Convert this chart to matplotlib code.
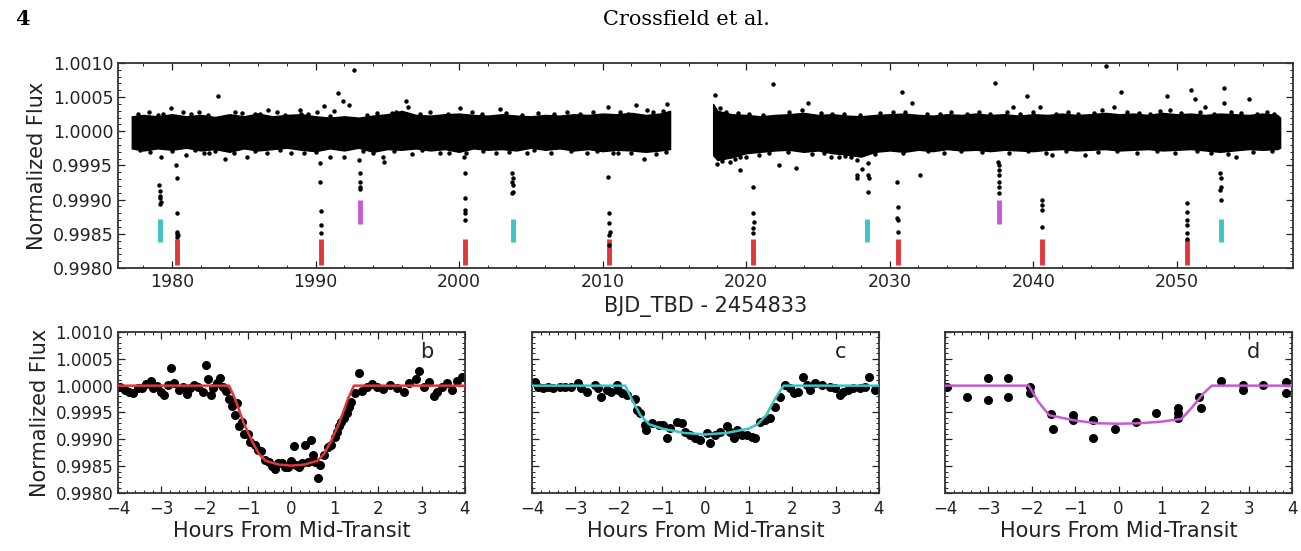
import matplotlib

matplotlib.use("Agg")
import matplotlib.pyplot as plt
from matplotlib.ticker import FormatStrFormatter, MultipleLocator

# --- top panel: light curve, days are BJD_TBD - 2454833 ---
# the dense out-of-transit cloud is kept as a read-off envelope (top / bottom edge per day)
band1_days = [1977.2, 1978, 1979, 1980, 1981, 1982, 1983, 1984, 1985, 1986,
              1987, 1988, 1989, 1990, 1991, 1992, 1993, 1994, 1995, 1996,
              1997, 1998, 1999, 2000, 2001, 2002, 2003, 2004, 2005, 2006,
              2007, 2008, 2009, 2010, 2011, 2012, 2013, 2014, 2014.7]
band1_top = [1.00022, 1.00024, 1.00022, 1.00025, 1.00022, 1.00024, 1.00021, 1.00025, 1.00022, 1.00026,
             1.00022, 1.00024, 1.00025, 1.00022, 1.00020, 1.00022, 1.00020, 1.00023, 1.00025, 1.00030,
             1.00024, 1.00023, 1.00025, 1.00026, 1.00024, 1.00023, 1.00025, 1.00023, 1.00022, 1.00024,
             1.00023, 1.00025, 1.00024, 1.00026, 1.00025, 1.00027, 1.00024, 1.00026, 1.00030]
band1_bot = [0.99975, 0.99972, 0.99975, 0.99973, 0.99976, 0.99972, 0.99974, 0.99970, 0.99975, 0.99972,
             0.99974, 0.99976, 0.99973, 0.99971, 0.99975, 0.99972, 0.99976, 0.99970, 0.99974, 0.99973,
             0.99975, 0.99972, 0.99974, 0.99970, 0.99975, 0.99973, 0.99974, 0.99972, 0.99976, 0.99973,
             0.99975, 0.99972, 0.99974, 0.99971, 0.99973, 0.99972, 0.99970, 0.99972, 0.99974]

band2_days = [2017.7, 2018, 2019, 2020, 2021, 2022, 2023, 2024, 2025, 2026,
              2027, 2028, 2029, 2030, 2031, 2032, 2033, 2034, 2035, 2036,
              2037, 2038, 2039, 2040, 2041, 2042, 2043, 2044, 2045, 2046,
              2047, 2048, 2049, 2050, 2051, 2052, 2053, 2054, 2055, 2056,
              2057, 2057.2]
band2_top = [1.00040, 1.00030, 1.00025, 1.00024, 1.00022, 1.00024, 1.00025, 1.00027, 1.00024, 1.00025,
             1.00023, 1.00022, 1.00024, 1.00025, 1.00026, 1.00024, 1.00023, 1.00025, 1.00024, 1.00026,
             1.00024, 1.00025, 1.00023, 1.00025, 1.00024, 1.00026, 1.00024, 1.00025, 1.00027, 1.00025,
             1.00026, 1.00024, 1.00027, 1.00025, 1.00026, 1.00024, 1.00026, 1.00025, 1.00024, 1.00026,
             1.00024, 1.00020]
band2_bot = [0.99965, 0.99958, 0.99962, 0.99968, 0.99970, 0.99972, 0.99973, 0.99970, 0.99972, 0.99968,
             0.99966, 0.99963, 0.99970, 0.99972, 0.99970, 0.99973, 0.99971, 0.99974, 0.99972, 0.99973,
             0.99971, 0.99973, 0.99972, 0.99971, 0.99973, 0.99974, 0.99972, 0.99973, 0.99974, 0.99972,
             0.99973, 0.99974, 0.99972, 0.99973, 0.99974, 0.99972, 0.99970, 0.99972, 0.99974, 0.99973,
             0.99974, 0.99976]

# single points on the cloud border (its ragged edge)
fringe = [
    (1977.6, 1.00025), (1978.4, 1.00028), (1979.0, 1.00024), (1981.3, 1.00026), (1981.9, 1.00029),
    (1982.5, 1.00024), (1984.9, 1.00027), (1986.1, 1.00025), (1987.3, 1.00028), (1987.9, 1.00024),
    (1989.0, 1.00026), (1990.1, 1.00028), (1991.0, 1.00023), (1993.6, 1.00024), (1994.3, 1.00027),
    (1995.6, 1.00029), (1997.3, 1.00025), (1998.0, 1.00028), (1999.2, 1.00026), (2000.9, 1.00029),
    (2001.6, 1.00025), (2003.3, 1.00027), (2004.4, 1.00024), (2005.5, 1.00027), (2006.6, 1.00025),
    (2007.5, 1.00028), (2008.4, 1.00025), (2009.3, 1.00028), (2011.2, 1.00029), (2011.8, 1.00026),
    (2013.5, 1.00028), (2014.2, 1.00030), (2018.2, 1.00034), (2018.6, 1.00029), (2019.4, 1.00027),
    (2020.2, 1.00026), (2021.2, 1.00024), (2023.0, 1.00028), (2023.9, 1.00031), (2025.2, 1.00027),
    (2026.0, 1.00026), (2026.8, 1.00025), (2027.9, 1.00024), (2029.3, 1.00027), (2030.2, 1.00028),
    (2031.1, 1.00029), (2032.6, 1.00026), (2033.5, 1.00025), (2034.3, 1.00028), (2035.4, 1.00026),
    (2036.2, 1.00028), (2037.0, 1.00025), (2038.2, 1.00028), (2039.1, 1.00025), (2040.0, 1.00029),
    (2041.6, 1.00026), (2042.4, 1.00029), (2043.1, 1.00026), (2044.2, 1.00027), (2044.8, 1.00031),
    (2046.5, 1.00029), (2047.4, 1.00027), (2048.1, 1.00026), (2048.8, 1.00030), (2050.3, 1.00027),
    (2051.6, 1.00029), (2052.6, 1.00026), (2053.8, 1.00029), (2054.5, 1.00027), (2055.6, 1.00026),
    (2056.8, 1.00025),
    (1977.8, 0.99972), (1978.5, 0.99970), (1980.0, 0.99971), (1981.6, 0.99973), (1982.2, 0.99969),
    (1983.0, 0.99971), (1984.3, 0.99968), (1985.8, 0.99971), (1986.6, 0.99969), (1987.5, 0.99972),
    (1989.2, 0.99969), (1990.0, 0.99970), (1993.3, 0.99971), (1994.0, 0.99968), (1995.5, 0.99971),
    (1997.4, 0.99972), (1999.3, 0.99969), (2000.5, 0.99968), (2001.7, 0.99971), (2003.5, 0.99970),
    (2005.2, 0.99972), (2006.4, 0.99969), (2007.8, 0.99971), (2008.9, 0.99968), (2009.6, 0.99971),
    (2010.7, 0.99969), (2012.0, 0.99968), (2013.7, 0.99967), (2014.4, 0.99970), (2018.0, 0.99952),
    (2018.9, 0.99955), (2019.2, 0.99959), (2020.0, 0.99963), (2020.9, 0.99966), (2021.6, 0.99968),
    (2022.9, 0.99970), (2024.6, 0.99967), (2025.4, 0.99969), (2026.9, 0.99964), (2027.3, 0.99962),
    (2029.0, 0.99967), (2030.9, 0.99969), (2032.7, 0.99971), (2033.8, 0.99969), (2035.0, 0.99971),
    (2036.4, 0.99970), (2038.3, 0.99969), (2039.6, 0.99971), (2040.9, 0.99969), (2042.3, 0.99971),
    (2044.5, 0.99970), (2045.8, 0.99971), (2047.2, 0.99968), (2048.6, 0.99971), (2049.9, 0.99969),
    (2051.4, 0.99971), (2052.4, 0.99968), (2053.6, 0.99967), (2055.3, 0.99970), (2056.6, 0.99971),
]

# points standing well out of the cloud
outliers = [
    (1979.4, 1.00025), (1979.96, 1.00034), (1980.77, 1.00028), (1983.2, 1.00052), (1984.37, 1.00028),
    (1985.76, 1.00025), (1986.7, 1.00031), (1988.9, 1.00031), (1989.5, 1.00026), (1990.6, 1.00037),
    (1991.3, 1.00030), (1991.57, 1.00056), (1991.9, 1.00044), (1992.3, 1.00039), (1992.7, 1.00090),
    (1995.3, 1.00027), (1996.3, 1.00044), (1996.45, 1.00036), (1979.26, 0.99963), (1981.0, 0.99966),
    (1982.6, 0.99968), (1983.7, 0.99959), (1985.2, 0.99963), (1988.3, 0.99969), (1991.0, 0.99963),
    (1992.0, 0.99963), (1994.7, 0.99963), (1994.75, 0.99955), (1996.7, 0.99967), (2000.07, 1.00034),
    (2002.86, 1.00032), (2010.41, 1.00035), (2012.3, 1.00038), (2013.1, 1.00031), (2014.5, 1.00040),
    (1998.68, 0.99968), (2002.6, 0.99969), (2004.7, 0.99968), (2012.86, 0.99960), (2011.1, 0.99968),
    (2017.84, 1.00053), (2019.6, 0.99943), (2019.6, 0.99962), (2018.3, 0.99956), (2021.9, 1.00069),
    (2022.3, 0.99950), (2023.5, 0.99947), (2024.3, 1.00041), (2025.9, 0.99962), (2026.5, 0.99962),
    (2030.85, 1.00057), (2031.55, 1.00041), (2032.1, 0.99936), (2037.35, 1.00071), (2038.6, 1.00036),
    (2039.56, 1.00052), (2040.5, 1.00036), (2041.3, 0.99966), (2043.6, 0.99965), (2045.1, 1.00095),
    (2046.1, 1.00058), (2045.6, 1.00036), (2049.3, 1.00052), (2049.5, 1.00031), (2051.0, 1.00060),
    (2051.25, 1.00048), (2051.95, 1.00036), (2053.27, 1.00063), (2053.27, 1.00041), (2055.0, 1.00048),
    (2054.1, 0.99962), (2056.3, 1.00028),
]

# in-transit points below the cloud
in_transit = [
    (1979.12, 0.99922), (1979.18, 0.99912), (1979.2, 0.99906), (1979.15, 0.99902), (1979.22, 0.99897),
    (1979.17, 0.99893),
    (1980.3, 0.99951), (1980.32, 0.99932), (1980.35, 0.99880), (1980.35, 0.99853), (1980.4, 0.99848),
    (1980.33, 0.99845), (1980.38, 0.99850),
    (1990.3, 0.99954), (1990.32, 0.99926), (1990.35, 0.99883), (1990.35, 0.99863), (1990.38, 0.99851),
    (1993.05, 0.99958), (1993.1, 0.99939), (1993.08, 0.99926), (1993.12, 0.99918), (1993.1, 0.99915),
    (2000.35, 0.99962), (2000.4, 0.99939), (2000.4, 0.99902), (2000.42, 0.99885), (2000.38, 0.99880),
    (2000.4, 0.99870),
    (2003.7, 0.99939), (2003.75, 0.99932), (2003.72, 0.99926), (2003.78, 0.99921), (2003.75, 0.99911),
    (2003.7, 0.99910),
    (2010.4, 0.99933), (2010.45, 0.99880), (2010.42, 0.99866), (2010.48, 0.99853), (2010.45, 0.99848),
    (2010.45, 0.99834),
    (2020.5, 0.99918), (2020.5, 0.99880), (2020.52, 0.99867), (2020.48, 0.99858), (2020.5, 0.99851),
    (2027.7, 0.99958), (2027.7, 0.99936), (2027.75, 0.99932), (2028.5, 0.99954), (2028.5, 0.99936),
    (2028.55, 0.99932), (2028.5, 0.99911), (2028.1, 0.99945),
    (2030.5, 0.99926), (2030.55, 0.99889), (2030.52, 0.99873), (2030.58, 0.99870), (2030.55, 0.99853),
    (2037.55, 0.99955), (2037.6, 0.99951), (2037.58, 0.99943), (2037.62, 0.99936), (2037.6, 0.99926),
    (2037.6, 0.99918), (2037.62, 0.99910),
    (2040.6, 0.99899), (2040.62, 0.99892), (2040.58, 0.99885), (2040.6, 0.99860),
    (2050.68, 0.99895), (2050.72, 0.99882), (2050.7, 0.99870), (2050.7, 0.99863), (2050.72, 0.99851),
    (2050.7, 0.99843),
    (2053.0, 0.99939), (2053.05, 0.99931), (2053.05, 0.99919), (2053.02, 0.99914), (2053.05, 0.99899),
]

# transit tick marks per planet: mid-times, bar bottom, bar top
b_times = [1980.35, 1990.35, 2000.4, 2010.45, 2020.5, 2030.55, 2040.6, 2050.7]
c_times = [1979.15, 2003.75, 2028.4, 2053.05]
d_times = [1993.1, 2037.6]
b_bar = (0.99805, 0.99842)
c_bar = (0.99838, 0.99872)
d_bar = (0.99865, 0.99900)

# --- bottom panels: phase-folded transits (hours, flux) ---
b_points = [
    (-3.95, 0.99998), (-3.85, 0.99992), (-3.75, 0.99988), (-3.65, 0.99986), (-3.55, 0.99996),
    (-3.45, 0.99995), (-3.35, 1.00003), (-3.25, 1.00008), (-3.2, 0.99996), (-3.1, 0.99999),
    (-3.0, 0.99988), (-2.95, 0.99982), (-2.85, 1.00002), (-2.78, 1.00032), (-2.7, 1.00005),
    (-2.6, 0.99992), (-2.5, 0.99998), (-2.42, 0.99985), (-2.35, 0.99996), (-2.25, 1.00001),
    (-2.15, 0.99998), (-2.05, 0.99988), (-1.97, 1.00038), (-1.92, 1.00012), (-1.85, 0.99983),
    (-1.8, 0.99995), (-1.72, 1.00005), (-1.65, 1.00015), (-1.58, 0.99998), (-1.5, 0.99990),
    (-1.45, 0.99975), (-1.38, 0.99962), (-1.3, 0.99945), (-1.25, 0.99968), (-1.2, 0.99925),
    (-1.15, 0.99933), (-1.1, 0.99910), (-1.0, 0.99909), (-0.95, 0.99895), (-0.85, 0.99890),
    (-0.78, 0.99880), (-0.7, 0.99878), (-0.6, 0.99862), (-0.53, 0.99858), (-0.46, 0.99850),
    (-0.38, 0.99845), (-0.3, 0.99855), (-0.23, 0.99855), (-0.15, 0.99848), (-0.08, 0.99849),
    (0.0, 0.99860), (0.05, 0.99888), (0.1, 0.99852), (0.18, 0.99849), (0.25, 0.99855),
    (0.31, 0.99890), (0.38, 0.99857), (0.46, 0.99899), (0.5, 0.99870), (0.54, 0.99858),
    (0.6, 0.99827), (0.65, 0.99852), (0.75, 0.99870), (0.85, 0.99885), (0.92, 0.99890),
    (1.0, 0.99905), (1.04, 0.99914), (1.1, 0.99925), (1.15, 0.99933), (1.22, 0.99940),
    (1.27, 0.99949), (1.33, 0.99960), (1.38, 0.99970), (1.46, 0.99987), (1.55, 1.00023),
    (1.63, 0.99990), (1.74, 0.99998), (1.85, 1.00003), (1.97, 0.99998), (2.12, 0.99993),
    (2.28, 1.00001), (2.43, 0.99995), (2.59, 0.99989), (2.7, 1.00004), (2.86, 1.00012),
    (2.93, 1.00028), (3.05, 0.99998), (3.16, 1.00006), (3.28, 0.99981), (3.36, 0.99989),
    (3.48, 0.99998), (3.59, 1.00004), (3.71, 0.99992), (3.82, 1.00009), (3.94, 1.00017),
]
b_model_hours = [-4, -1.44, -1.3, -1.1, -0.9, -0.75, -0.6, -0.3, 0, 0.3, 0.6, 0.75, 0.9, 1.1, 1.3, 1.44, 4]
b_model_flux = [1.0, 1.0, 0.99975, 0.99930, 0.99895, 0.99873, 0.99860, 0.99853, 0.99851,
                0.99853, 0.99860, 0.99873, 0.99895, 0.99930, 0.99975, 1.0, 1.0]

c_points = [
    (-3.94, 1.00007), (-3.86, 0.99998), (-3.75, 0.99995), (-3.63, 0.99998), (-3.51, 0.99995),
    (-3.36, 0.99998), (-3.24, 0.99998), (-3.09, 0.99998), (-2.94, 1.00004), (-2.86, 0.99995),
    (-2.74, 0.99989), (-2.55, 1.00001), (-2.47, 0.99995), (-2.40, 0.99979), (-2.28, 0.99992),
    (-2.17, 0.99989), (-2.05, 1.00001), (-2.01, 0.99992), (-1.93, 0.99986), (-1.82, 0.99983),
    (-1.63, 0.99976), (-1.59, 0.99955), (-1.52, 0.99949), (-1.40, 0.99927), (-1.36, 0.99917),
    (-1.24, 0.99930), (-1.08, 0.99927), (-0.97, 0.99927), (-0.89, 0.99902), (-0.82, 0.99921),
    (-0.66, 0.99933), (-0.55, 0.99930), (-0.47, 0.99914), (-0.35, 0.99908), (-0.24, 0.99902),
    (-0.12, 0.99898), (0.03, 0.99911), (0.11, 0.99893), (0.22, 0.99908), (0.34, 0.99914),
    (0.49, 0.99924), (0.57, 0.99914), (0.65, 0.99902), (0.72, 0.99918), (0.84, 0.99908),
    (0.95, 0.99908), (1.07, 0.99905), (1.14, 0.99902), (1.26, 0.99933), (1.37, 0.99936),
    (1.49, 0.99940), (1.60, 0.99961), (1.72, 0.99979), (1.84, 1.00001), (1.95, 0.99995),
    (2.03, 0.99986), (2.14, 0.99989), (2.26, 1.00017), (2.34, 1.00001), (2.41, 0.99992),
    (2.53, 1.00004), (2.68, 1.00001), (2.87, 0.99998), (2.99, 0.99995), (3.10, 0.99983),
    (3.18, 0.99989), (3.29, 0.99992), (3.41, 0.99995), (3.56, 0.99995), (3.68, 0.99998),
    (3.76, 1.00017), (3.91, 0.99992),
]
c_model_hours = [-4, -1.85, -1.7, -1.5, -1.3, -1.0, -0.5, 0, 0.5, 1.0, 1.2, 1.4, 1.6, 1.8, 4]
c_model_flux = [1.0, 1.0, 0.99975, 0.99945, 0.99928, 0.99920, 0.99912, 0.99909, 0.99912,
                0.99920, 0.99928, 0.99945, 0.99975, 1.0, 1.0]

d_points = [
    (-3.96, 0.99998), (-3.50, 0.99979), (-3.00, 1.00015), (-3.00, 0.99973), (-2.54, 1.00015),
    (-2.54, 0.99979), (-2.05, 0.99998), (-2.05, 0.99986), (-1.55, 0.99947), (-1.51, 0.99919),
    (-1.05, 0.99945), (-1.05, 0.99936), (-0.59, 0.99936), (-0.59, 0.99903), (-0.09, 0.99919),
    (0.41, 0.99933), (0.87, 0.99949), (1.36, 0.99959), (1.36, 0.99949), (1.36, 0.99940),
    (1.86, 0.99978), (1.90, 0.99958), (2.36, 1.00009), (2.86, 1.00001), (2.86, 0.99992),
    (3.32, 1.00001), (3.85, 1.00006), (3.85, 0.99986),
]
d_model_hours = [-4, -2.07, -1.85, -1.6, -1.0, -0.5, 0, 0.5, 1.0, 1.45, 1.7, 1.95, 2.15, 4]
d_model_flux = [1.0, 1.0, 0.99970, 0.99945, 0.99935, 0.99930, 0.99929, 0.99930, 0.99933,
                0.99938, 0.99960, 0.99985, 1.0, 1.0]

RED = "#e0383a"
CYAN = "#3cc4c6"
MAGENTA = "#c65ad2"

plt.rcParams["font.family"] = "DejaVu Sans"


def style_axis(ax, xmajor, xminor, size):
    ax.set_ylim(0.9980, 1.0010)
    ax.xaxis.set_major_locator(MultipleLocator(xmajor))
    ax.xaxis.set_minor_locator(MultipleLocator(xminor))
    ax.yaxis.set_major_locator(MultipleLocator(0.0005))
    ax.yaxis.set_minor_locator(MultipleLocator(0.0001))
    ax.yaxis.set_major_formatter(FormatStrFormatter("%.4f"))
    ax.tick_params(which="both", direction="in", top=True, right=True, labelsize=size, colors="#222222")
    ax.tick_params(which="major", length=5, width=0.9)
    ax.tick_params(which="minor", length=2.5, width=0.7)
    for spine in ax.spines.values():
        spine.set_linewidth(1.3)
        spine.set_color("#333333")


fig = plt.figure(figsize=(13.01, 5.51), dpi=100)
fig.patch.set_facecolor("white")

fig.text(0.012, 0.965, "4", family="DejaVu Serif", fontsize=15, fontweight="bold", va="center")
fig.text(0.528, 0.965, "Crossfield et al.", family="DejaVu Serif", fontsize=15, ha="center", va="center")

top = fig.add_axes([0.0907, 0.5136, 0.9032, 0.3721])
for t in b_times:
    top.vlines(t, b_bar[0], b_bar[1], color=RED, linewidth=3.5, zorder=1)
for t in c_times:
    top.vlines(t, c_bar[0], c_bar[1], color=CYAN, linewidth=3.5, zorder=1)
for t in d_times:
    top.vlines(t, d_bar[0], d_bar[1], color=MAGENTA, linewidth=3.5, zorder=1)

top.fill_between(band1_days, band1_bot, band1_top, color="black", linewidth=1.0, edgecolor="black", zorder=2)
top.fill_between(band2_days, band2_bot, band2_top, color="black", linewidth=1.0, edgecolor="black", zorder=2)
for pts in (fringe, outliers, in_transit):
    top.plot([p[0] for p in pts], [p[1] for p in pts], "o", color="black", markersize=3.2,
             markeredgewidth=0, zorder=3)
top.set_xlim(1976.24, 2058.1)
style_axis(top, 10, 2, 12.5)
top.set_ylabel("Normalized Flux", fontsize=15, color="#222222")
top.set_xlabel("BJD_TBD - 2454833", fontsize=15, color="#222222", labelpad=4)

panels = [
    (0.0907, b_points, b_model_hours, b_model_flux, RED, "b"),
    (0.4089, c_points, c_model_hours, c_model_flux, CYAN, "c"),
    (0.7264, d_points, d_model_hours, d_model_flux, MAGENTA, "d"),
]
for left, pts, mh, mf, color, label in panels:
    ax = fig.add_axes([left, 0.1053, 0.2667, 0.2922])
    ax.plot([p[0] for p in pts], [p[1] for p in pts], "o", color="black", markersize=6.5,
            markeredgewidth=0, zorder=2)
    ax.plot(mh, mf, "-", color=color, linewidth=1.8, zorder=3)
    ax.set_xlim(-4, 4)
    style_axis(ax, 1, 0.2, 12)
    ax.tick_params(axis="x", pad=5)
    ax.set_xlabel("Hours From Mid-Transit", fontsize=15, color="#222222", labelpad=2)
    ax.text(0.89, 0.875, label, transform=ax.transAxes, fontsize=15, ha="center", va="center",
            color="#222222")
    if label == "b":
        ax.set_ylabel("Normalized Flux", fontsize=15, color="#222222")
    else:
        ax.tick_params(labelleft=False)

fig.savefig("out.png", dpi=100)
